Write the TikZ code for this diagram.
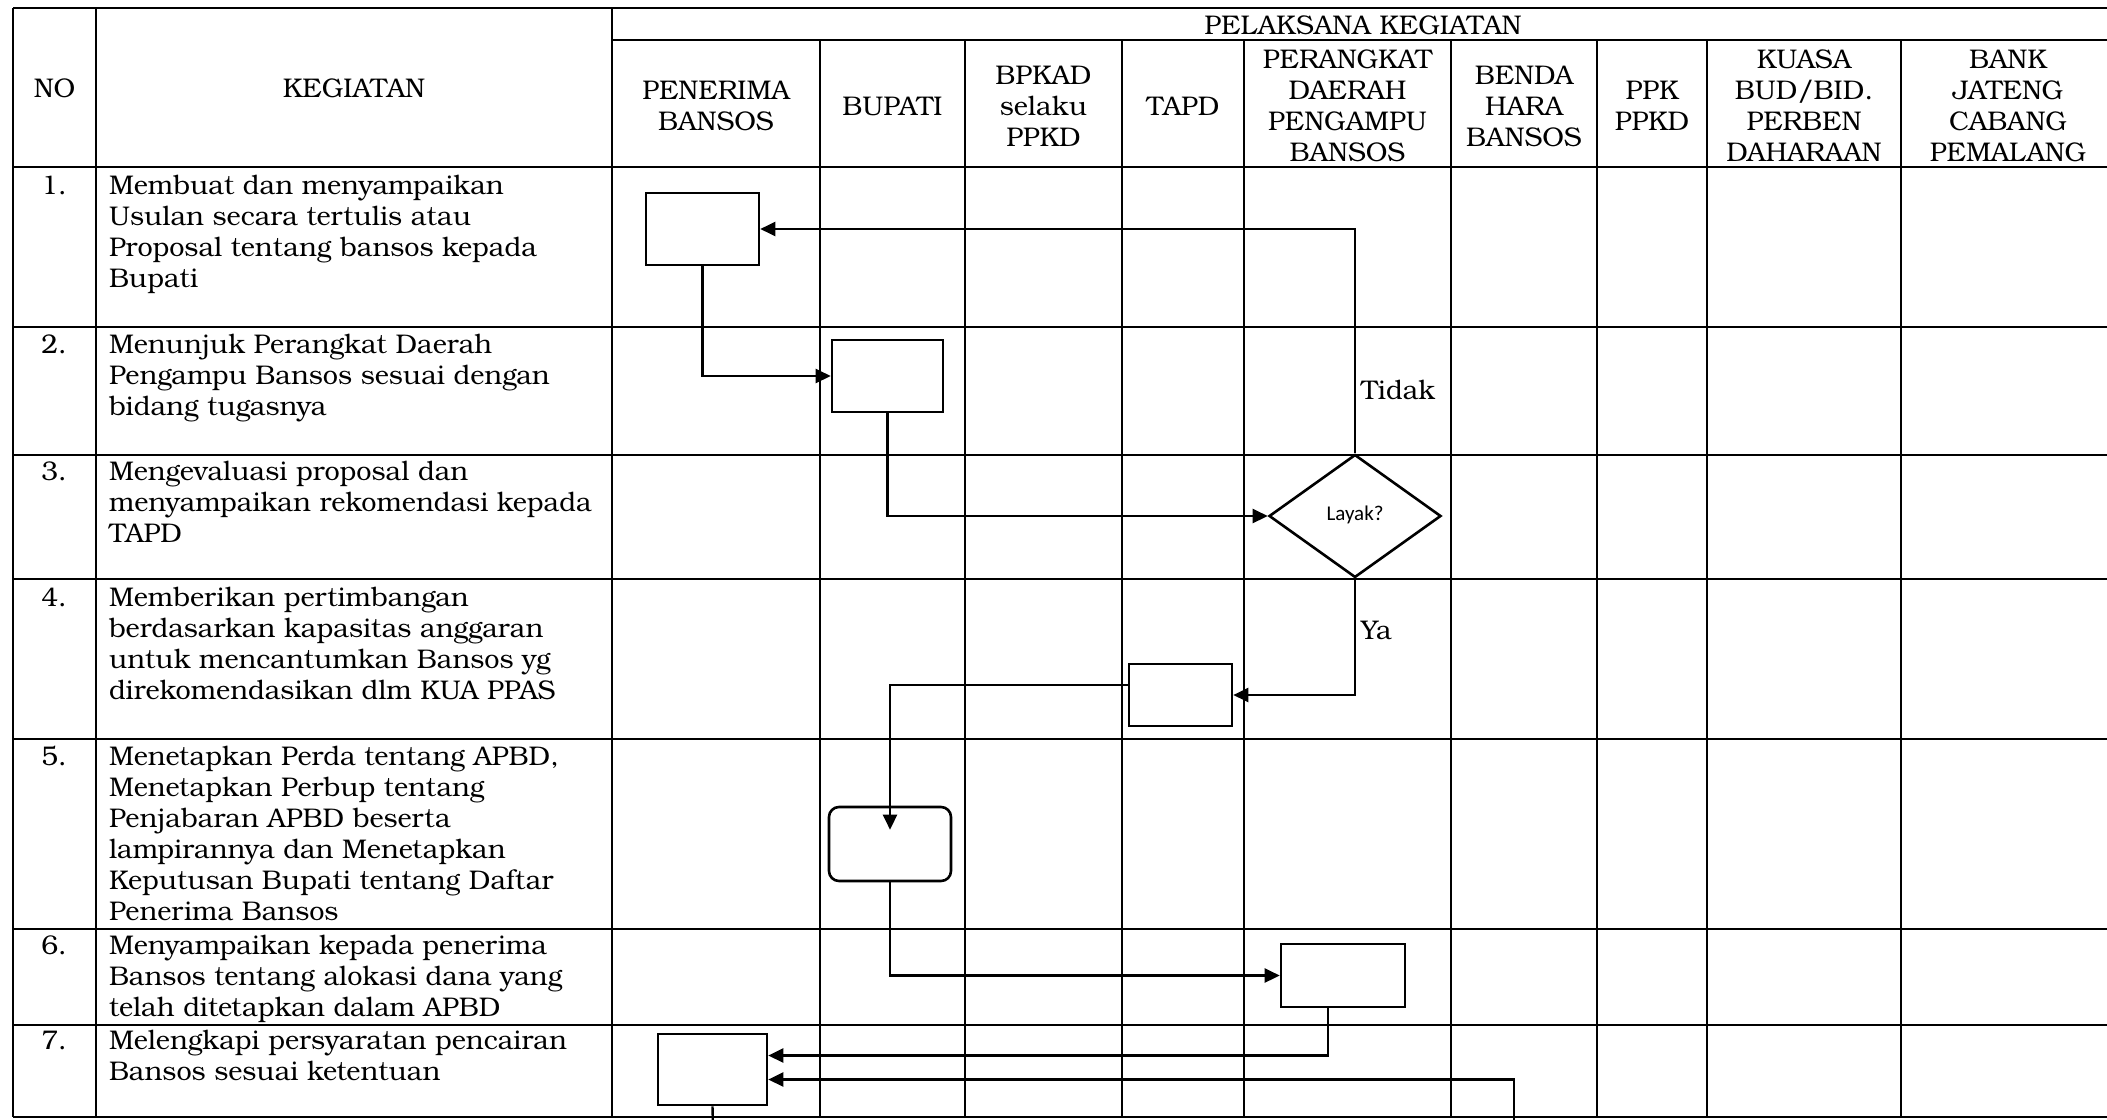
\documentclass[tikz,border=0pt]{standalone}
\usepackage{fontspec}
\setmainfont{TeX Gyre Bonum}
\newfontfamily\calibrifont{Carlito}
\usetikzlibrary{arrows.meta, shapes.geometric}

\begin{document}
\begin{tikzpicture}[x=0.5pt, y=-0.5pt, line width=1pt,
    font=\fontsize{13.5}{15.5}\selectfont,
    head/.style={align=center, inner sep=0pt},
    kegiatan/.style={anchor=north west, align=left, inner sep=0pt},
    nomor/.style={anchor=north, inner sep=0pt},
    task/.style={draw, line width=1.3pt, inner sep=0pt},
    flow/.style={line width=1.2pt, -{Triangle[length=7.5pt, width=7pt]}},
    answer/.style={right, inner sep=2.5pt}]

  \useasboundingbox (0,0) rectangle (2107,1119);

  % draw table frame
  \draw (13,8) -- (2107,8);
  \draw (612,40) -- (2107,40);
  \foreach \y in {167,327,455,579,739,929,1025,1117}
    \draw (13,\y) -- (2107,\y);
  \foreach \x in {13,96,612}
    \draw (\x,8) -- (\x,1117);
  \foreach \x in {820,965,1122,1244,1451,1597,1707,1901}
    \draw (\x,40) -- (\x,1117);

  % draw header texts
  \node[head] (no) at (54.5,88) {NO};
  \node[head] (keg) at (354,88) {KEGIATAN};
  \node[anchor=base, inner sep=0pt] (pelaksana) at (1363,34) {PELAKSANA KEGIATAN};
  \node[head] (hpen) at (716,106) {PENERIMA\\BANSOS};
  \node[head] (hbup) at (892.5,106) {BUPATI};
  \node[head] (hbpkad) at (1043.5,106) {BPKAD\\selaku\\PPKD};
  \node[head] (htapd) at (1183,106) {TAPD};
  \node[head] (hper) at (1347.5,106) {PERANGKAT\\DAERAH\\PENGAMPU\\BANSOS};
  \node[head] (hbenda) at (1524,106) {BENDA\\HARA\\BANSOS};
  \node[head] (hppk) at (1652,106) {PPK\\PPKD};
  \node[head] (hkuasa) at (1804,106) {KUASA\\BUD/BID.\\PERBEN\\DAHARAAN};
  \node[head] (hbank) at (2008,106) {BANK\\JATENG\\CABANG\\PEMALANG};

  % draw numbers and activities
  \node[nomor] (n1) at (54,174) {\vphantom{Mdlk}1.};
  \node[kegiatan] (k1) at (108,174) {Membuat dan menyampaikan\\Usulan secara tertulis atau\\Proposal tentang bansos kepada\\Bupati};
  \node[nomor] (n2) at (54,333) {\vphantom{Mdlk}2.};
  \node[kegiatan] (k2) at (108,333) {Menunjuk Perangkat Daerah\\Pengampu Bansos sesuai dengan\\bidang tugasnya};
  \node[nomor] (n3) at (54,460) {\vphantom{Mdlk}3.};
  \node[kegiatan] (k3) at (108,460) {Mengevaluasi proposal dan\\menyampaikan rekomendasi kepada\\TAPD};
  \node[nomor] (n4) at (54,586) {\vphantom{Mdlk}4.};
  \node[kegiatan] (k4) at (108,586) {Memberikan pertimbangan\\berdasarkan kapasitas anggaran\\untuk mencantumkan Bansos yg\\direkomendasikan dlm KUA PPAS};
  \node[nomor] (n5) at (54,745) {\vphantom{Mdlk}5.};
  \node[kegiatan] (k5) at (108,745) {Menetapkan Perda tentang APBD,\\Menetapkan Perbup tentang\\Penjabaran APBD beserta\\lampirannya dan Menetapkan\\Keputusan Bupati tentang Daftar\\Penerima Bansos};
  \node[nomor] (n6) at (54,934) {\vphantom{Mdlk}6.};
  \node[kegiatan] (k6) at (108,934) {Menyampaikan kepada penerima\\Bansos tentang alokasi dana yang\\telah ditetapkan dalam APBD};
  \node[nomor] (n7) at (54,1029) {\vphantom{Mdlk}7.};
  \node[kegiatan] (k7) at (108,1029) {Melengkapi persyaratan pencairan\\Bansos sesuai ketentuan};

  % draw flow boxes
  \node[task, minimum width=56.5pt, minimum height=36pt] (pen1) at (702.5,229) {};
  \node[task, minimum width=55.5pt, minimum height=36pt] (bup2) at (887.5,376) {};
  \node[task, diamond, minimum width=86pt, minimum height=61.5pt] (layak) at (1355,516)
    {\raisebox{3pt}{\calibrifont\fontsize{10.5}{12}\selectfont Layak?}};
  \node[task, minimum width=51.5pt, minimum height=31pt] (tapd4) at (1180.5,695) {};
  \node[task, rounded corners=5pt, minimum width=61pt, minimum height=37pt] (bup5) at (890,844) {};
  \node[task, minimum width=62pt, minimum height=31.5pt] (per6) at (1343,975.5) {};
  \node[task, minimum width=54.5pt, minimum height=35.5pt] (pen7) at (712.5,1069.5) {};
  \coordinate (bendain) at (1514,1130);
  \coordinate (pen7out) at (713,1130);

  % draw connectors
  \draw[flow] (pen1.south) |- (bup2.west);
  \draw[flow] (bup2.south) |- (layak.west);
  \draw[flow] (layak.north) |- node[answer, pos=0.14] {Tidak} (pen1.east);
  \draw[flow] (layak.south) |- node[answer, pos=0.22] {Ya} (tapd4.east);
  \draw[flow] ([yshift=5pt]tapd4.west) -| ([yshift=-12pt]bup5.north);
  \draw[flow] (bup5.south) |- (per6.west);
  \draw[flow] ([xshift=-7.5pt]per6.south) |- ([yshift=7pt]pen7.east);
  \draw[flow] (bendain) |- ([yshift=-5pt]pen7.east);
  \draw[line width=1.2pt] (pen7.south) -- (pen7out);

\end{tikzpicture}
\end{document}
